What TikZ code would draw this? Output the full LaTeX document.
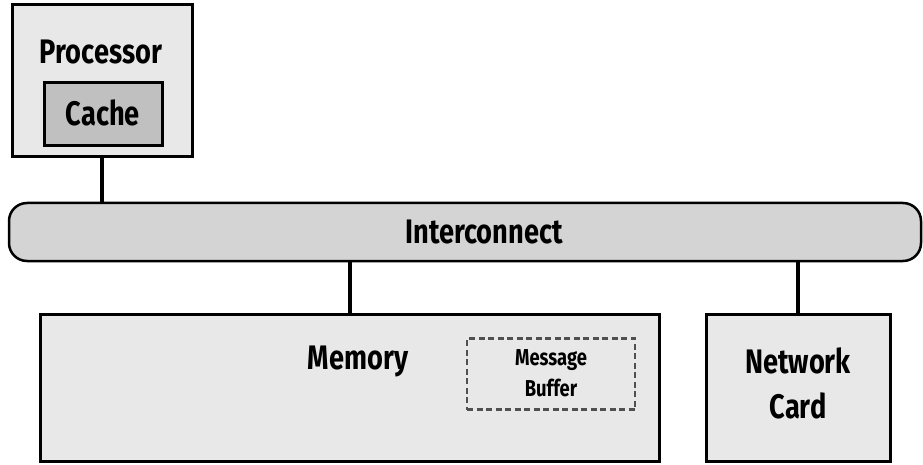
\documentclass[tikz,border=0pt]{standalone}
\usepackage{fontspec}
\setmainfont{Fira Sans}[FakeStretch=0.8]
\usetikzlibrary{positioning}

\definecolor{boxgray}{HTML}{E8E8E8}
\definecolor{cachegray}{HTML}{C0C0C0}
\definecolor{busgray}{HTML}{D4D4D4}
\definecolor{dashgray}{HTML}{505050}

\tikzset{
    unit/.style={draw, line width=3pt, fill=boxgray, inner sep=0pt},
    bigtext/.style={font=\bfseries\fontsize{34}{45}\selectfont, align=center},
    smalltext/.style={font=\bfseries\fontsize{23}{31}\selectfont, align=center},
    conn/.style={line width=4.5pt}
}

\begin{document}
\begin{tikzpicture}[x=1pt, y=-1pt]
        \useasboundingbox (0, 0) rectangle (923, 465);
        % 处理器与缓存
        \node[unit, minimum width=180pt, minimum height=152pt] (proc) at (102, 81) {};
        \node[bigtext] (proctext) at (101, 52) {Processor};
        \node[unit, fill=cachegray, minimum width=118pt, minimum height=63pt] (cache) at (103, 114) {};
        \node[bigtext] (cachetext) at (103, 113) {Cache};
        % 总线
        \node[draw, line width=2.5pt, fill=busgray, rounded corners=18pt,
              minimum width=912pt, minimum height=58pt] (bus) at (465, 232) {};
        \node[bigtext] (bustext) at (484, 232) {Interconnect};
        % 内存
        \node[unit, minimum width=619pt, minimum height=147pt] (mem) at (350, 388) {};
        \node[bigtext] (memtext) at (358, 361) {Memory};
        \node[draw=dashgray, dash pattern=on 6pt off 3.5pt, line width=2.5pt,
              minimum width=168pt, minimum height=71pt] (buf) at (551, 374) {};
        \node[smalltext] (buftext) at (551, 373) {Message\\Buffer};
        % 网卡
        \node[unit, minimum width=184pt, minimum height=147pt] (net) at (798, 388) {};
        \node[bigtext] (nettext) at (798, 383) {Network\\Card};
        % 连线
        \draw[conn] (proc.south) -- (proc.south |- bus.north);
        \draw[conn] (mem.north) -- (mem.north |- bus.south);
        \draw[conn] (net.north) -- (net.north |- bus.south);
    \end{tikzpicture}
\end{document}
